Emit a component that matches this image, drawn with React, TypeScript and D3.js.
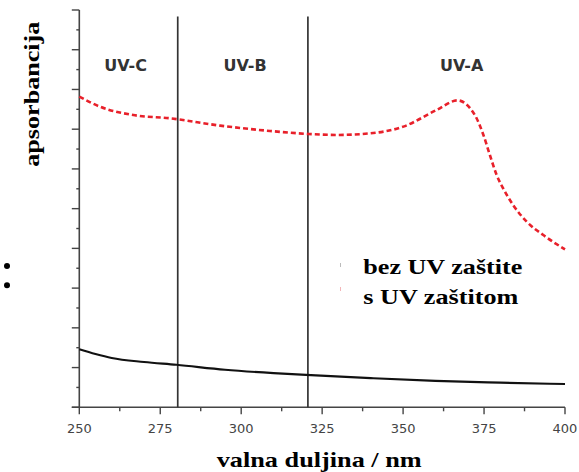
import React from "react";
import * as d3 from "d3";

const xTicks = [250, 275, 300, 325, 350, 375, 400];
const xMinorTicks = [262.5, 287.5, 312.5, 337.5, 362.5, 387.5];
const yTicks = d3.range(0, 21, 1);
const bandLines = [280.4, 320.6];
const bandLabels = [
  { label: "UV-C", nm: 264.3 },
  { label: "UV-B", nm: 301.2 },
  { label: "UV-A", nm: 368.1 },
];
const legendLabels = ["bez UV zaštite", "s UV zaštitom"];

// red dashed: bez UV zaštite
const redNm = [250, 256.4, 266.7, 278, 293.5, 308.9, 320.7, 329.5, 339.8, 350.1, 360.4, 366.8, 370.7, 372.7, 374.8, 376.8, 378.9, 380.9, 384, 388.2, 393.3, 400];
const redVal = [15.64, 15.13, 14.71, 14.55, 14.18, 13.91, 13.76, 13.71, 13.79, 14.13, 14.97, 15.45, 15.05, 14.55, 13.71, 12.7, 11.69, 11.02, 10.18, 9.34, 8.67, 7.95];

// black solid: s UV zaštitom
const blackNm = [250, 255, 260, 270, 280, 295, 310, 320, 340, 360, 380, 400];
const blackVal = [2.92, 2.68, 2.48, 2.28, 2.14, 1.89, 1.72, 1.63, 1.47, 1.33, 1.24, 1.17];

const W = 579;
const H = 472;
const x = d3.scaleLinear().domain([250, 400]).range([79.3, 565]);
const y = d3.scaleLinear().domain([0, 20]).range([407.3, 10]);

const line = d3
  .line<[number, number]>()
  .x((d) => x(d[0]))
  .y((d) => y(d[1]))
  .curve(d3.curveMonotoneX);

export default function App() {
  const red = line(redNm.map((n, i) => [n, redVal[i]] as [number, number])) || "";
  const black = line(blackNm.map((n, i) => [n, blackVal[i]] as [number, number])) || "";
  const axisColor = "#444";
  const serif = "'Liberation Serif', 'Times New Roman', serif";
  return (
    <svg
      width={W}
      height={H}
      viewBox={`0 0 ${W} ${H}`}
      style={{ position: "absolute", left: 0, top: 0, background: "#fff" }}
    >
      <rect x={0} y={0} width={W} height={H} fill="#fff" />
      {/* y axis */}
      <line x1={x(250)} x2={x(250)} y1={y(20)} y2={y(0)} stroke={axisColor} strokeWidth={1.6} />
      {yTicks.map((t) => (
        <line
          key={"yt" + t}
          x1={x(250) - (t % 2 === 0 ? 7.5 : 3)}
          x2={x(250)}
          y1={y(t)}
          y2={y(t)}
          stroke={axisColor}
          strokeWidth={1.4}
        />
      ))}
      {/* x axis */}
      <line x1={x(250) - 7.5} x2={x(400)} y1={y(0)} y2={y(0)} stroke={axisColor} strokeWidth={1.6} />
      {xTicks.map((t) => (
        <g key={"xt" + t}>
          <line x1={x(t)} x2={x(t)} y1={y(0)} y2={y(0) + 7} stroke={axisColor} strokeWidth={1.4} />
          <text
            x={x(t)}
            y={432.5}
            textAnchor="middle"
            fontFamily="'DejaVu Sans', sans-serif"
            fontSize={13}
            fill="#444"
          >
            {t}
          </text>
        </g>
      ))}
      {xMinorTicks.map((t) => (
        <line key={"xm" + t} x1={x(t)} x2={x(t)} y1={y(0)} y2={y(0) + 4} stroke={axisColor} strokeWidth={1.4} />
      ))}
      {/* band separators */}
      {bandLines.map((b) => (
        <line key={"b" + b} x1={x(b)} x2={x(b)} y1={16.5} y2={y(0)} stroke="#333" strokeWidth={1.7} />
      ))}
      {bandLabels.map((b) => (
        <text
          key={b.label}
          x={x(b.nm)}
          y={71}
          textAnchor="middle"
          fontFamily="'DejaVu Sans', sans-serif"
          fontWeight="bold"
          fontSize={16}
          fill="#333"
        >
          {b.label}
        </text>
      ))}
      {/* curves */}
      <path d={red} fill="none" stroke="#e8202a" strokeWidth={2.6} strokeDasharray="5,3" />
      <path d={black} fill="none" stroke="#111" strokeWidth={2.1} />
      {/* legend remnants */}
      <line x1={340.5} x2={340.5} y1={263} y2={267} stroke="#bbb" strokeWidth={1} />
      <line x1={340.5} x2={340.5} y1={287} y2={291} stroke="#f3b5b8" strokeWidth={1} />
      <text x={363.3} y={273.5} fontFamily={serif} fontWeight="bold" fontSize={22} textLength={159} lengthAdjust="spacingAndGlyphs" fill="#000">
        {legendLabels[0]}
      </text>
      <text x={363.3} y={303.5} fontFamily={serif} fontWeight="bold" fontSize={22} textLength={155} lengthAdjust="spacingAndGlyphs" fill="#000">
        {legendLabels[1]}
      </text>
      {/* bullets */}
      <circle cx={7} cy={266} r={3} fill="#000" />
      <circle cx={7} cy={285.3} r={3} fill="#000" />
      {/* axis titles */}
      <text
        transform="translate(38.5,94.2) rotate(-90)"
        textAnchor="middle"
        fontFamily={serif}
        fontWeight="bold"
        fontSize={21}
        textLength={145}
        lengthAdjust="spacingAndGlyphs"
        fill="#000"
      >
        apsorbancija
      </text>
      <text
        x={319.2}
        y={467}
        textAnchor="middle"
        fontFamily={serif}
        fontWeight="bold"
        fontSize={22}
        textLength={205}
        lengthAdjust="spacingAndGlyphs"
        fill="#000"
      >
        valna duljina / nm
      </text>
    </svg>
  );
}
